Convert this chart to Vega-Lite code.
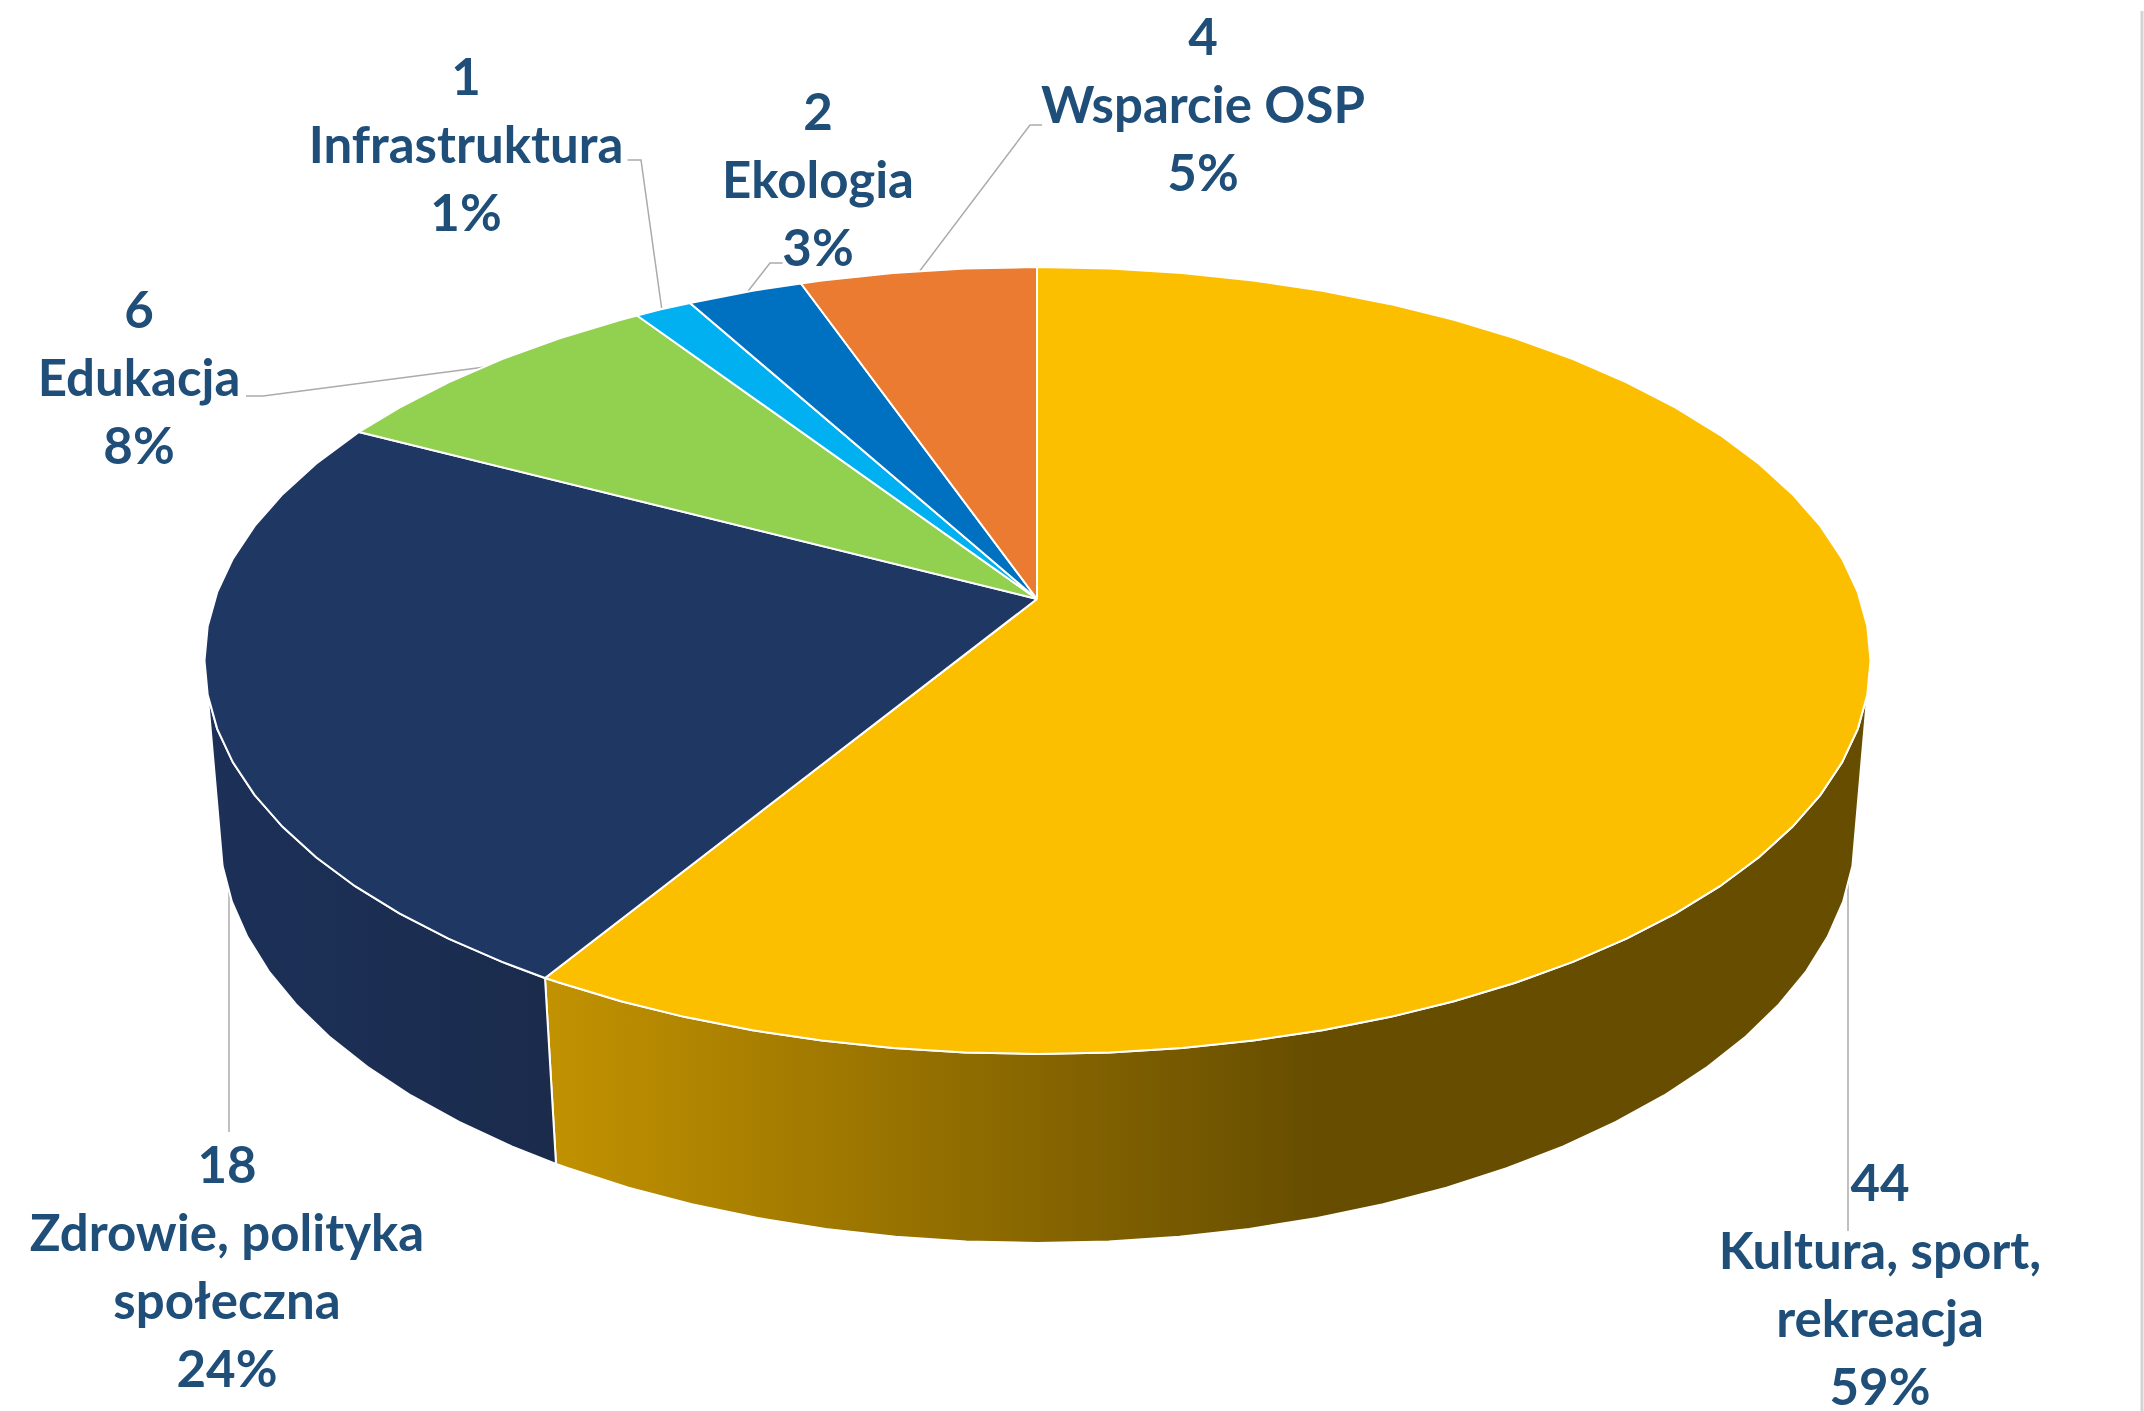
{"$schema":"https://vega.github.io/schema/vega-lite/v6.json","width":2144,"height":1411,"padding":0,"autosize":{"type":"none"},"background":"white","config":{"view":{"stroke":null}},
"datasets":{
"wallKultura":[{"x":1867.3,"y":694.8},{"x":1857.8,"y":728.8},{"x":1842.1,"y":762.3},{"x":1820.3,"y":795.1},{"x":1792.4,"y":826.8},{"x":1758.9,"y":857.3},{"x":1719.9,"y":886.2},{"x":1675.6,"y":913.4},{"x":1626.5,"y":938.7},{"x":1572.9,"y":961.9},{"x":1515.3,"y":982.8},{"x":1454,"y":1001.3},{"x":1389.5,"y":1017.1},{"x":1322.4,"y":1030.3},{"x":1253.1,"y":1040.6},{"x":1182.1,"y":1048},{"x":1110.1,"y":1052.5},{"x":1037.5,"y":1054},{"x":964.9,"y":1052.5},{"x":892.9,"y":1048},{"x":821.9,"y":1040.6},{"x":752.6,"y":1030.3},{"x":685.5,"y":1017.1},{"x":621,"y":1001.3},{"x":559.7,"y":982.8},{"x":545,"y":978},{"x":556,"y":1164},{"x":568.3,"y":1168.3},{"x":628.5,"y":1187.7},{"x":691.8,"y":1204.3},{"x":757.7,"y":1218.1},{"x":825.8,"y":1228.9},{"x":895.5,"y":1236.7},{"x":966.2,"y":1241.4},{"x":1037.5,"y":1243},{"x":1108.8,"y":1241.4},{"x":1179.5,"y":1236.7},{"x":1249.2,"y":1228.9},{"x":1317.3,"y":1218.1},{"x":1383.2,"y":1204.3},{"x":1446.5,"y":1187.7},{"x":1506.7,"y":1168.3},{"x":1563.3,"y":1146.4},{"x":1615.9,"y":1122},{"x":1664.1,"y":1095.5},{"x":1707.6,"y":1066.9},{"x":1745.9,"y":1036.5},{"x":1778.9,"y":1004.5},{"x":1806.2,"y":971.3},{"x":1827.6,"y":936.9},{"x":1843.1,"y":901.7},{"x":1852.4,"y":866},{"x":1867.3,"y":694.8}],
"wallZdrowie":[{"x":545,"y":978},{"x":502.1,"y":961.9},{"x":448.5,"y":938.7},{"x":399.4,"y":913.4},{"x":355.1,"y":886.2},{"x":316.1,"y":857.3},{"x":282.6,"y":826.8},{"x":254.7,"y":795.1},{"x":232.9,"y":762.3},{"x":217.2,"y":728.8},{"x":207.7,"y":694.8},{"x":222.6,"y":866},{"x":231.9,"y":901.7},{"x":247.4,"y":936.9},{"x":268.8,"y":971.3},{"x":296.1,"y":1004.5},{"x":329.1,"y":1036.5},{"x":367.4,"y":1066.9},{"x":410.9,"y":1095.5},{"x":459.1,"y":1122},{"x":511.7,"y":1146.4},{"x":556,"y":1164},{"x":545,"y":978}],
"topKultura":[{"x":1037,"y":599},{"x":1037,"y":267},{"x":1110.1,"y":268.5},{"x":1182.1,"y":273},{"x":1253.1,"y":280.4},{"x":1322.4,"y":290.7},{"x":1389.5,"y":303.9},{"x":1454,"y":319.7},{"x":1515.3,"y":338.2},{"x":1572.9,"y":359.1},{"x":1626.5,"y":382.3},{"x":1675.6,"y":407.6},{"x":1719.9,"y":434.8},{"x":1758.9,"y":463.8},{"x":1792.4,"y":494.2},{"x":1820.3,"y":525.9},{"x":1842.1,"y":558.7},{"x":1857.8,"y":592.2},{"x":1867.3,"y":626.2},{"x":1870.5,"y":660.5},{"x":1867.3,"y":694.8},{"x":1857.8,"y":728.8},{"x":1842.1,"y":762.3},{"x":1820.3,"y":795.1},{"x":1792.4,"y":826.8},{"x":1758.9,"y":857.3},{"x":1719.9,"y":886.2},{"x":1675.6,"y":913.4},{"x":1626.5,"y":938.7},{"x":1572.9,"y":961.9},{"x":1515.3,"y":982.8},{"x":1454,"y":1001.3},{"x":1389.5,"y":1017.1},{"x":1322.4,"y":1030.3},{"x":1253.1,"y":1040.6},{"x":1182.1,"y":1048},{"x":1110.1,"y":1052.5},{"x":1037.5,"y":1054},{"x":964.9,"y":1052.5},{"x":892.9,"y":1048},{"x":821.9,"y":1040.6},{"x":752.6,"y":1030.3},{"x":685.5,"y":1017.1},{"x":621,"y":1001.3},{"x":559.7,"y":982.8},{"x":545,"y":978},{"x":1037,"y":599}],
"topZdrowie":[{"x":1037,"y":599},{"x":545,"y":978},{"x":502.1,"y":961.9},{"x":448.5,"y":938.7},{"x":399.4,"y":913.4},{"x":355.1,"y":886.2},{"x":316.1,"y":857.3},{"x":282.6,"y":826.8},{"x":254.7,"y":795.1},{"x":232.9,"y":762.3},{"x":217.2,"y":728.8},{"x":207.7,"y":694.8},{"x":204.5,"y":660.5},{"x":207.7,"y":626.2},{"x":217.2,"y":592.2},{"x":232.9,"y":558.7},{"x":254.7,"y":525.9},{"x":282.6,"y":494.2},{"x":316.1,"y":463.8},{"x":359,"y":432},{"x":1037,"y":599}],
"topEdukacja":[{"x":1037,"y":599},{"x":359,"y":432},{"x":399.4,"y":407.6},{"x":448.5,"y":382.3},{"x":502.1,"y":359.1},{"x":559.7,"y":338.2},{"x":621,"y":319.7},{"x":637,"y":315.5},{"x":1037,"y":599}],
"topInfrastruktura":[{"x":1037,"y":599},{"x":637,"y":315.5},{"x":660,"y":309.5},{"x":690,"y":303},{"x":1037,"y":599}],
"topEkologia":[{"x":1037,"y":599},{"x":690,"y":303},{"x":752.6,"y":290.7},{"x":801,"y":283.5},{"x":1037,"y":599}],
"topOSP":[{"x":1037,"y":599},{"x":801,"y":283.5},{"x":821.9,"y":280.4},{"x":892.9,"y":273},{"x":964.9,"y":268.5},{"x":1037,"y":267},{"x":1037,"y":599}],
"leaders":[
{"id":"Infrastruktura","x":627.5,"y":160},{"id":"Infrastruktura","x":641,"y":160},{"id":"Infrastruktura","x":661.6,"y":308},
{"id":"Ekologia","x":782.6,"y":263},{"id":"Ekologia","x":770,"y":263},{"id":"Ekologia","x":745,"y":295},
{"id":"OSP","x":1042,"y":125},{"id":"OSP","x":1030,"y":125},{"id":"OSP","x":919,"y":272},
{"id":"Edukacja","x":246,"y":396},{"id":"Edukacja","x":263,"y":396},{"id":"Edukacja","x":485,"y":367},
{"id":"Zdrowie","x":229,"y":887},{"id":"Zdrowie","x":229,"y":1132},
{"id":"Kultura","x":1848,"y":879},{"id":"Kultura","x":1848,"y":1231}],
"frame":[{"x":2142,"y":11},{"x":2142,"y":1411}],
"labels":[
{"category":"Wsparcie OSP","value":4,"share":"5%","x":1203,"y":40,"lines":["4","Wsparcie OSP","5%"]},
{"category":"Infrastruktura","value":1,"share":"1%","x":466,"y":80,"lines":["1","Infrastruktura","1%"]},
{"category":"Ekologia","value":2,"share":"3%","x":818,"y":115,"lines":["2","Ekologia","3%"]},
{"category":"Edukacja","value":6,"share":"8%","x":139,"y":313,"lines":["6","Edukacja","8%"]},
{"category":"Zdrowie, polityka społeczna","value":18,"share":"24%","x":227,"y":1168,"lines":["18","Zdrowie, polityka","społeczna","24%"]},
{"category":"Kultura, sport, rekreacja","value":44,"share":"59%","x":1880,"y":1186,"lines":["44","Kultura, sport,","rekreacja","59%"]}
]},
"encoding":{
"x":{"field":"x","type":"quantitative","scale":{"domain":[0,2144],"nice":false,"zero":false},"axis":null},
"y":{"field":"y","type":"quantitative","scale":{"domain":[1411,0],"nice":false,"zero":false},"axis":null},
"order":{"value":null}
},
"layer":[
{"data":{"name":"frame"},"mark":{"type":"line","stroke":"#d4d4d4","strokeWidth":3}},
{"data":{"name":"leaders"},"mark":{"type":"line","stroke":"#ababab","strokeWidth":1.5},"encoding":{"detail":{"field":"id"}}},
{"data":{"name":"wallKultura"},"mark":{"type":"line","stroke":"white","strokeWidth":2,"fill":{"x1":0,"x2":1,"y1":0,"y2":0,"gradient":"linear","stops":[{"offset":0,"color":"#c29200"},{"offset":0.585,"color":"#664d00"},{"offset":1,"color":"#664d00"}]}}},
{"data":{"name":"wallZdrowie"},"mark":{"type":"line","stroke":"white","strokeWidth":2,"fill":{"x1":0,"x2":1,"y1":0,"y2":0,"gradient":"linear","stops":[{"offset":0,"color":"#1c3058"},{"offset":1,"color":"#1a2b4c"}]}}},
{"data":{"name":"topKultura"},"mark":{"type":"line","stroke":"white","strokeWidth":2,"fill":"#fbbf00"}},
{"data":{"name":"topZdrowie"},"mark":{"type":"line","stroke":"white","strokeWidth":2,"fill":"#1f3763"}},
{"data":{"name":"topEdukacja"},"mark":{"type":"line","stroke":"white","strokeWidth":2,"fill":"#92d050"}},
{"data":{"name":"topInfrastruktura"},"mark":{"type":"line","stroke":"white","strokeWidth":2,"fill":"#00b0f0"}},
{"data":{"name":"topEkologia"},"mark":{"type":"line","stroke":"white","strokeWidth":2,"fill":"#0070c0"}},
{"data":{"name":"topOSP"},"mark":{"type":"line","stroke":"white","strokeWidth":2,"fill":"#ea7b30"}},
{"data":{"name":"labels"},"mark":{"type":"text","font":"Lato","fontWeight":"bold","fontSize":51,"lineHeight":68,"align":"center","baseline":"middle","color":"#1f4e79"},"encoding":{"text":{"field":"lines"}}}
]}
